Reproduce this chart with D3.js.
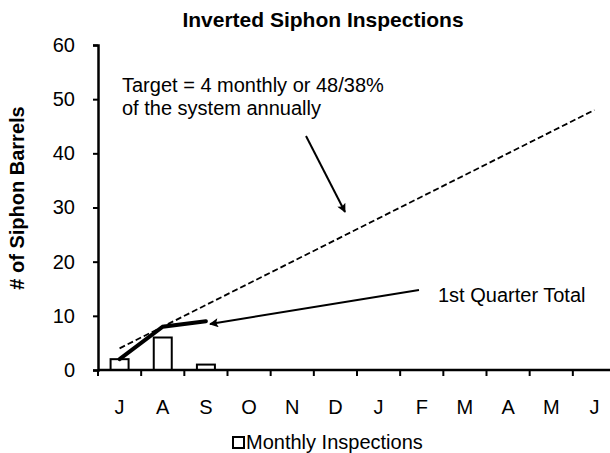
<!DOCTYPE html>
<html>
<head>
<meta charset="utf-8">
<script src="https://cdn.jsdelivr.net/npm/d3@7"></script>
<style>
  body { margin: 0; background: #fff; }
  svg { font-family: "Liberation Sans", Arial, sans-serif; }
</style>
</head>
<body>
<div id="chart"></div>
<script>
var months = ["J", "A", "S", "O", "N", "D", "J", "F", "M", "A", "M", "J"];
var monthly = [2, 6, 1];          // Monthly Inspections (bars)
var cumulative = [2, 8, 9];       // 1st Quarter Total (line)
var target = [4, 48];             // first and last month
var yTicks = [0, 10, 20, 30, 40, 50, 60];

var width = 610, height = 453;
var plotL = 98, plotR = 616, plotT = 45, plotB = 370;

var svg = d3.select('#chart').append('svg')
  .attr('width', width)
  .attr('height', height);

var defs = svg.append('defs');
defs.append('marker')
  .attr('id', 'arrow')
  .attr('viewBox', '0 0 10 10')
  .attr('refX', 9).attr('refY', 5)
  .attr('markerWidth', 11).attr('markerHeight', 9)
  .attr('markerUnits', 'userSpaceOnUse')
  .attr('orient', 'auto')
  .append('path')
  .attr('d', 'M0,0 L10,5 L0,10 L2,5 z')
  .attr('fill', '#000');

var idx = months.map(function(d, i) { return i; });
var x = d3.scaleBand().domain(idx).range([plotL, plotR]);
var y = d3.scaleLinear().domain([0, 60]).range([plotB, plotT]);
var cx = function(i) { return x(i) + x.bandwidth() / 2; };

// title
svg.append('text')
  .attr('x', 323).attr('y', 27)
  .attr('text-anchor', 'middle')
  .style('font-weight', 'bold').style('font-size', '21px')
  .text('Inverted Siphon Inspections');

// y label
svg.append('text')
  .attr('transform', 'translate(24,198) rotate(-90)')
  .attr('text-anchor', 'middle')
  .style('font-weight', 'bold').style('font-size', '20px')
  .text('# of Siphon Barrels');

// bars
svg.selectAll('rect.bar')
  .data(monthly)
  .enter().append('rect')
  .attr('class', 'bar')
  .attr('x', function(d, i) { return cx(i) - 9; })
  .attr('width', 18)
  .attr('y', function(d) { return y(d); })
  .attr('height', function(d) { return y(0) - y(d); })
  .attr('fill', '#fff')
  .attr('stroke', '#000')
  .attr('stroke-width', 2);

// target dashed line
svg.append('line')
  .attr('x1', cx(0)).attr('y1', y(target[0]))
  .attr('x2', cx(months.length - 1)).attr('y2', y(target[1]))
  .attr('stroke', '#000')
  .attr('stroke-width', 1.8)
  .attr('stroke-dasharray', '6,3');

// cumulative line
var line = d3.line()
  .x(function(d, i) { return cx(i); })
  .y(function(d) { return y(d); });

svg.append('path')
  .datum(cumulative)
  .attr('d', line)
  .attr('fill', 'none')
  .attr('stroke', '#000')
  .attr('stroke-width', 4)
  .attr('stroke-linecap', 'round');

// axes
var yAxis = svg.append('g')
  .attr('transform', 'translate(' + plotL + ',0)')
  .call(d3.axisLeft(y).tickValues(yTicks).tickSize(5).tickPadding(18));
var xAxis = svg.append('g')
  .attr('transform', 'translate(0,' + plotB + ')')
  .call(d3.axisBottom(x).tickSize(0).tickPadding(30).tickFormat(function(i) { return months[i]; }));

// band boundary ticks
xAxis.selectAll('line.sep')
  .data(idx)
  .enter().append('line')
  .attr('class', 'sep')
  .attr('x1', function(i) { return x(i); })
  .attr('x2', function(i) { return x(i); })
  .attr('y1', 0).attr('y2', 6)
  .attr('stroke', '#000').attr('stroke-width', 2);

[yAxis, xAxis].forEach(function(g) {
  g.attr('font-size', 20).attr('font-family', '"Liberation Sans", Arial, sans-serif');
  g.select('.domain').attr('stroke-width', 2.5);
  g.selectAll('.tick line').attr('stroke-width', 2);
  g.selectAll('text').attr('fill', '#000');
});
xAxis.select('.domain').attr('d', 'M' + plotL + ',0H' + width);

// annotations
var ann = svg.append('g').style('font-size', '20px');
ann.append('text').attr('x', 122).attr('y', 92).text('Target = 4 monthly or 48/38%');
ann.append('text').attr('x', 122).attr('y', 115).text('of the system annually');
ann.append('text').attr('x', 438).attr('y', 302).text('1st Quarter Total');

svg.append('line')
  .attr('x1', 306).attr('y1', 136).attr('x2', 345).attr('y2', 212)
  .attr('stroke', '#000').attr('stroke-width', 2)
  .attr('marker-end', 'url(#arrow)');
svg.append('line')
  .attr('x1', 419).attr('y1', 290).attr('x2', 210).attr('y2', 324)
  .attr('stroke', '#000').attr('stroke-width', 2)
  .attr('marker-end', 'url(#arrow)');

// legend
var lg = svg.append('g').attr('transform', 'translate(232,436)');
lg.append('rect').attr('x', 1).attr('y', 1).attr('width', 11).attr('height', 11)
  .attr('fill', '#fff').attr('stroke', '#000').attr('stroke-width', 2);
lg.append('text').attr('x', 14).attr('y', 13).style('font-size', '20px').text('Monthly Inspections');
</script>
</body>
</html>
